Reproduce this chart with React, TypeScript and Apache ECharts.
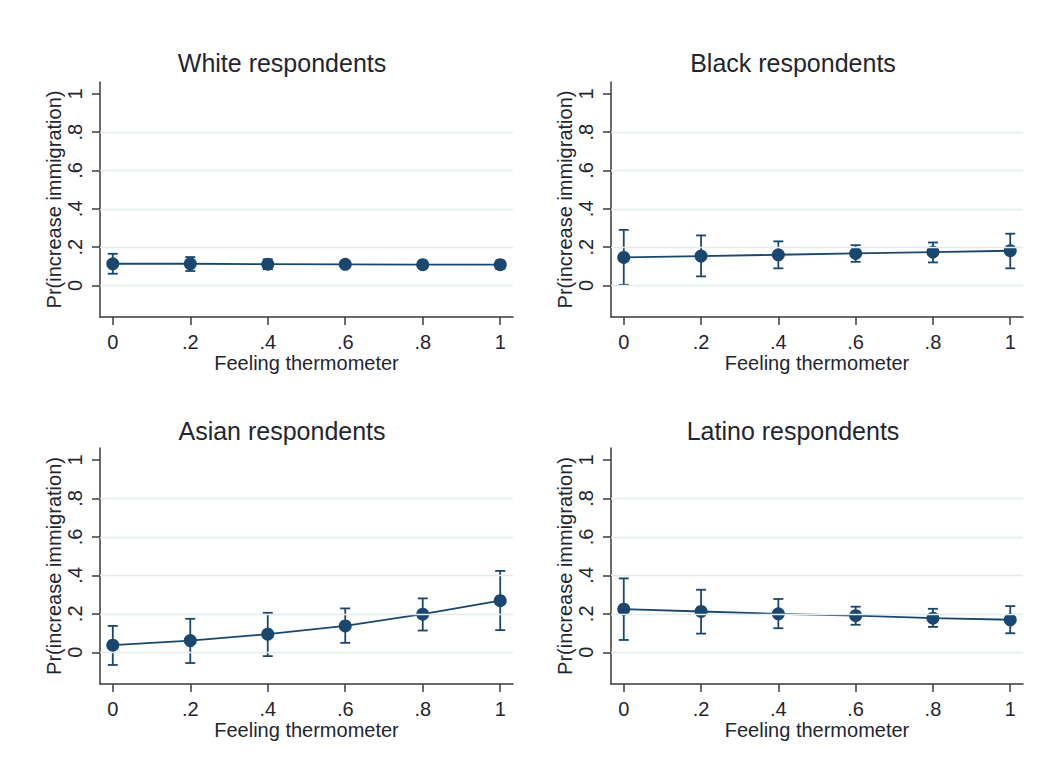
import React, { useEffect, useRef } from "react";
import * as echarts from "echarts";

const xVals = [0, 0.2, 0.4, 0.6, 0.8, 1];
const tickVals = [0, 0.2, 0.4, 0.6, 0.8, 1];
const gridVals = [0, 0.2, 0.4, 0.6, 0.8];

const panelTitles = ["White respondents", "Black respondents", "Asian respondents", "Latino respondents"];

const whiteEst = [0.113, 0.113, 0.111, 0.110, 0.108, 0.108];
const whiteLo = [0.061, 0.075, 0.085, 0.095, 0.096, 0.087];
const whiteHi = [0.165, 0.148, 0.136, 0.125, 0.120, 0.129];

const blackEst = [0.146, 0.153, 0.160, 0.167, 0.174, 0.181];
const blackLo = [0.003, 0.047, 0.089, 0.123, 0.120, 0.089];
const blackHi = [0.290, 0.261, 0.230, 0.210, 0.224, 0.270];

const asianEst = [0.037, 0.061, 0.094, 0.137, 0.198, 0.268];
const asianLo = [-0.066, -0.056, -0.020, 0.049, 0.113, 0.115];
const asianHi = [0.137, 0.174, 0.205, 0.228, 0.280, 0.423];

const latinoEst = [0.224, 0.212, 0.200, 0.190, 0.177, 0.169];
const latinoLo = [0.064, 0.097, 0.125, 0.143, 0.132, 0.099];
const latinoHi = [0.384, 0.325, 0.277, 0.237, 0.226, 0.240];

const panels = [
  { est: whiteEst, lo: whiteLo, hi: whiteHi },
  { est: blackEst, lo: blackLo, hi: blackHi },
  { est: asianEst, lo: asianLo, hi: asianHi },
  { est: latinoEst, lo: latinoLo, hi: latinoHi },
];

const NAVY = "#1a476f";
const TEXT = "#1f2631";
const AXIS = "#3a3a3a";
const GRID = "#e2ecef";
const FONT = "'Liberation Sans', Arial, Helvetica, sans-serif";

const fmt = (v: number) => {
  if (Math.abs(v) < 1e-9) return "0";
  if (Math.abs(v - 1) < 1e-9) return "1";
  return String(Math.round(v * 10) / 10).replace(/^0/, "");
};

export default function App() {
  const ref = useRef<HTMLDivElement>(null);
  useEffect(() => {
    if (!ref.current) return;
    const chart = echarts.init(ref.current, null, { renderer: "svg" });
    const rects = [
      { left: 100, top: 82, width: 413, height: 235 },
      { left: 611, top: 82, width: 412, height: 235 },
      { left: 100, top: 448, width: 413, height: 236 },
      { left: 611, top: 448, width: 412, height: 236 },
    ];
    const titlePos = [
      { x: 277, y: 45 },
      { x: 788, y: 45 },
      { x: 277, y: 413 },
      { x: 788, y: 413 },
    ];
    const grid = rects.map((r) => ({ ...r, containLabel: false }));
    const xAxis = rects.map((_, i) => ({
      type: "value",
      gridIndex: i,
      min: -0.033,
      max: 1.033,
      name: "Feeling thermometer",
      nameLocation: "middle",
      nameGap: 34,
      nameTextStyle: { fontSize: 20, color: TEXT, fontFamily: FONT },
      axisLine: { show: true, onZero: false, lineStyle: { color: AXIS, width: 1.5 } },
      axisTick: { show: true, length: 8, customValues: tickVals, lineStyle: { color: AXIS, width: 1.5 } },
      axisLabel: { customValues: tickVals, formatter: fmt, fontSize: 20, color: TEXT, fontFamily: FONT, margin: 15 },
      splitLine: { show: false },
    }));
    const yAxis = rects.map((_, i) => ({
      type: "value",
      gridIndex: i,
      min: -0.165,
      max: 1.062,
      name: "Pr(increase immigration)",
      nameLocation: "middle",
      nameRotate: 90,
      nameGap: 34,
      nameTextStyle: { fontSize: 20, color: TEXT, fontFamily: FONT },
      axisLine: { show: true, onZero: false, lineStyle: { color: AXIS, width: 1.5 } },
      axisTick: { show: true, length: 8, customValues: tickVals, lineStyle: { color: AXIS, width: 1.5 } },
      axisLabel: { customValues: tickVals, formatter: fmt, rotate: 90, fontSize: 20, color: TEXT, fontFamily: FONT, margin: 15 },
      splitLine: { show: false },
    }));
    const series: any[] = [];
    panels.forEach((p, i) => {
      series.push({
        type: "custom",
        xAxisIndex: i,
        yAxisIndex: i,
        z: 2,
        encode: { x: 0, y: [1, 2] },
        data: xVals.map((x, k) => [x, p.lo[k], p.hi[k]]),
        renderItem: (params: any, api: any) => {
          const x = api.value(0);
          const lo = api.coord([x, api.value(1)]);
          const hi = api.coord([x, api.value(2)]);
          const w = 5;
          const style = { stroke: NAVY, lineWidth: 1.8, fill: "none" };
          return {
            type: "group",
            children: [
              { type: "line", shape: { x1: lo[0], y1: lo[1], x2: hi[0], y2: hi[1] }, style },
              { type: "line", shape: { x1: lo[0] - w, y1: lo[1], x2: lo[0] + w, y2: lo[1] }, style },
              { type: "line", shape: { x1: hi[0] - w, y1: hi[1], x2: hi[0] + w, y2: hi[1] }, style },
            ],
          };
        },
        markLine: {
          silent: true,
          symbol: "none",
          label: { show: false },
          lineStyle: { color: GRID, width: 1.3, type: "solid" },
          data: gridVals.map((v) => ({ yAxis: v })),
        },
      });
      series.push({
        type: "line",
        xAxisIndex: i,
        yAxisIndex: i,
        z: 3,
        data: xVals.map((x, k) => [x, p.est[k]]),
        symbol: "circle",
        symbolSize: 13,
        showSymbol: true,
        itemStyle: { color: NAVY },
        lineStyle: { color: NAVY, width: 1.8 },
      });
    });
    chart.setOption({
      animation: false,
      backgroundColor: "#ffffff",
      textStyle: { fontFamily: FONT },
      title: panelTitles.map((t, i) => ({
        text: t,
        left: titlePos[i].x,
        top: titlePos[i].y,
        textAlign: "center",
        textStyle: { fontSize: 25, fontWeight: "normal", color: TEXT, fontFamily: FONT },
      })),
      grid,
      xAxis,
      yAxis,
      series,
    });
    return () => chart.dispose();
  }, []);
  return <div ref={ref} style={{ position: "fixed", left: 0, top: 0, width: 1045, height: 776 }} />;
}
